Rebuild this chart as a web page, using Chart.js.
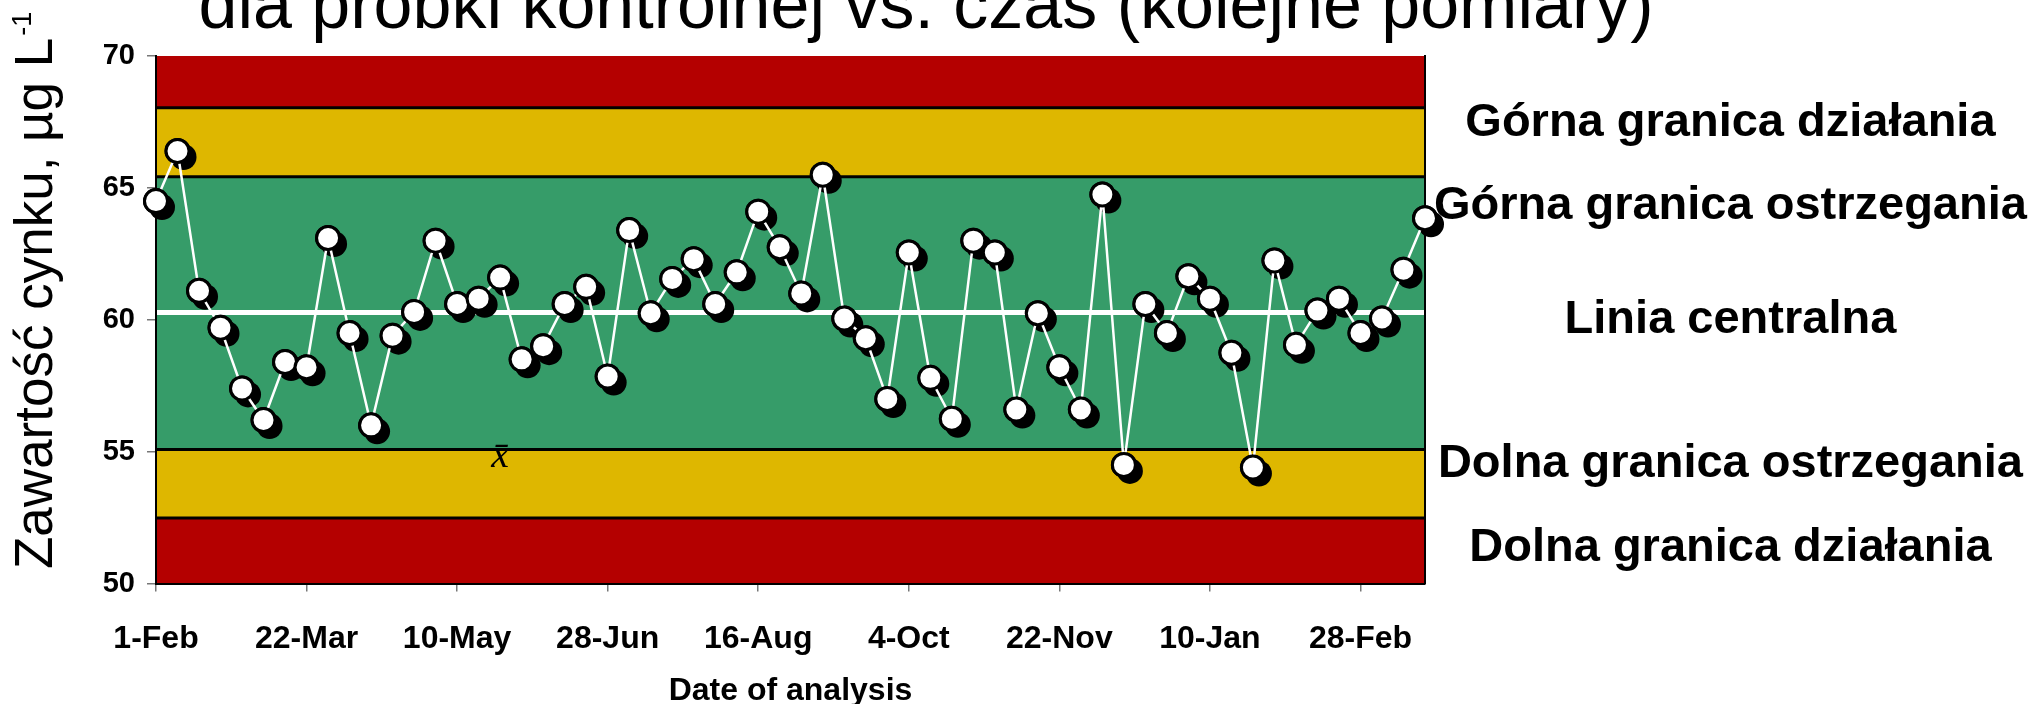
<!DOCTYPE html>
<html>
<head>
<meta charset="utf-8">
<script src="https://cdn.jsdelivr.net/npm/chart.js@4.4.1/dist/chart.umd.min.js"></script>
<style>
  html, body { margin: 0; padding: 0; background: #fff; }
  canvas { display: block; }
</style>
</head>
<body>
<canvas id="karta" width="2034" height="704"></canvas>
<script>
// daty pomiarów (co tydzień)
const daty = ['1-Feb','8-Feb','15-Feb','22-Feb','1-Mar','8-Mar','15-Mar','22-Mar','29-Mar',
  '5-Apr','12-Apr','19-Apr','26-Apr','3-May','10-May','17-May','24-May','31-May',
  '7-Jun','14-Jun','21-Jun','28-Jun','5-Jul','12-Jul','19-Jul','26-Jul',
  '2-Aug','9-Aug','16-Aug','23-Aug','30-Aug','6-Sep','13-Sep','20-Sep','27-Sep',
  '4-Oct','11-Oct','18-Oct','25-Oct','1-Nov','8-Nov','15-Nov','22-Nov','29-Nov',
  '6-Dec','13-Dec','20-Dec','27-Dec','3-Jan','10-Jan','17-Jan','24-Jan','31-Jan',
  '7-Feb','14-Feb','21-Feb','28-Feb','7-Mar','14-Mar','21-Mar'];

// zawartość cynku w próbce kontrolnej
const cynk = [64.5, 66.4, 61.1, 59.7, 57.4, 56.2, 58.4, 58.2, 63.1, 59.5,
  56.0, 59.4, 60.3, 63.0, 60.6, 60.8, 61.6, 58.5, 59.0, 60.6,
  61.25, 57.85, 63.4, 60.25, 61.55, 62.3, 60.6, 61.8, 64.1, 62.75,
  61.0, 65.5, 60.05, 59.3, 57.0, 62.55, 57.8, 56.25, 63.0, 62.55,
  56.6, 60.25, 58.2, 56.6, 64.75, 54.5, 60.6, 59.5, 61.65, 60.8,
  58.75, 54.4, 62.25, 59.05, 60.35, 60.8, 59.5, 60.05, 61.9, 63.85];

const etykietyOsiX = ['1-Feb','22-Mar','10-May','28-Jun','16-Aug','4-Oct','22-Nov','10-Jan','28-Feb'];

// granice: dolna działania, dolna ostrzegania, górna ostrzegania, górna działania
const granice = [52.49, 55.08, 65.42, 68.04];
const liniaCentralna = 60.28;

const opisyGranic = ['Górna granica działania', 'Górna granica ostrzegania', 'Linia centralna',
  'Dolna granica ostrzegania', 'Dolna granica działania'];

const tytul = 'dla próbki kontrolnej vs. czas (kolejne pomiary)';
const tytulOsiY = 'Zawartość cynku, µg L';

const FONT = '"Liberation Sans", Arial, sans-serif';
const CZERWONY = '#B40000', ZOLTY = '#DEB700', ZIELONY = '#369C69';

const strefy = {
  id: 'strefy',
  beforeDraw(chart) {
    const { ctx, chartArea: a, scales: { y } } = chart;
    ctx.save();
    ctx.fillStyle = '#fff';
    ctx.fillRect(0, 0, chart.width, chart.height);
    const pasy = [
      [y.min, granice[0], CZERWONY],
      [granice[0], granice[1], ZOLTY],
      [granice[1], granice[2], ZIELONY],
      [granice[2], granice[3], ZOLTY],
      [granice[3], y.max, CZERWONY]
    ];
    pasy.forEach(([od, doo, kolor]) => {
      const gora = y.getPixelForValue(doo);
      const dol = y.getPixelForValue(od);
      ctx.fillStyle = kolor;
      ctx.fillRect(a.left, gora, a.right - a.left, dol - gora);
    });
    ctx.strokeStyle = '#000';
    ctx.lineWidth = 3;
    granice.forEach(g => {
      const py = y.getPixelForValue(g);
      ctx.beginPath();
      ctx.moveTo(a.left, py);
      ctx.lineTo(a.right, py);
      ctx.stroke();
    });
    ctx.strokeStyle = '#fff';
    ctx.lineWidth = 5;
    const pc = y.getPixelForValue(liniaCentralna);
    ctx.beginPath();
    ctx.moveTo(a.left, pc);
    ctx.lineTo(a.right, pc);
    ctx.stroke();
    ctx.restore();
  }
};

// cień znaczników: zestaw nr 2 rysowany pod linią, z przesunięciem cienia
const cien = {
  id: 'cien',
  beforeDatasetDraw(chart, args) {
    if (args.index !== 2) return;
    const ctx = chart.ctx;
    ctx.save();
    ctx.shadowColor = '#000';
    ctx.shadowOffsetX = 6;
    ctx.shadowOffsetY = 6;
    ctx.shadowBlur = 0;
  },
  afterDatasetDraw(chart, args) {
    if (args.index === 2) chart.ctx.restore();
  }
};

const napisy = {
  id: 'napisy',
  afterDraw(chart) {
    const { ctx, scales: { x, y } } = chart;
    ctx.save();
    ctx.fillStyle = '#000';
    ctx.textBaseline = 'alphabetic';

    // tytuł (górna część poza obrazem)
    ctx.font = '70px ' + FONT;
    ctx.textAlign = 'center';
    ctx.fillText(tytul, 926, 28);

    // tytuł osi Y
    ctx.save();
    ctx.font = '53px ' + FONT;
    ctx.textAlign = 'left';
    ctx.translate(52, 569);
    ctx.rotate(-Math.PI / 2);
    ctx.fillText(tytulOsiY, 0, 0);
    const w = ctx.measureText(tytulOsiY).width;
    ctx.font = '27px ' + FONT;
    ctx.fillText('-1', w + 2, -21);
    ctx.restore();

    // x z kreską
    ctx.font = 'italic 40px "Liberation Serif", serif';
    ctx.textAlign = 'center';
    ctx.fillText('x\u0304', x.getPixelForValue(16), y.getPixelForValue(54.43));
    ctx.restore();
  }
};

new Chart(document.getElementById('karta'), {
  type: 'line',
  data: {
    labels: daty,
    datasets: [
      {
        data: cynk,
        showLine: false,
        pointRadius: 11.5,
        pointBorderWidth: 3,
        pointBackgroundColor: '#fff',
        pointBorderColor: '#000',
        clip: false,
        order: 0
      },
      {
        data: cynk,
        borderColor: '#fff',
        borderWidth: 2.5,
        pointRadius: 0,
        tension: 0,
        clip: false,
        order: 1
      },
      {
        data: cynk,
        showLine: false,
        pointRadius: 13,
        pointBorderWidth: 0,
        pointBackgroundColor: '#000',
        clip: false,
        order: 2
      }
    ]
  },
  options: {
    responsive: false,
    animation: false,
    devicePixelRatio: 1,
    layout: { padding: { top: 56, left: 0, right: 0, bottom: 0 } },
    plugins: { legend: { display: false }, tooltip: { enabled: false } },
    scales: {
      x: {
        type: 'category',
        offset: false,
        afterBuildTicks: s => { s.ticks = s.ticks.filter(t => etykietyOsiX.includes(daty[t.value])); },
        afterFit: s => { s.height = 120.4; },
        ticks: { autoSkip: false, maxRotation: 0, color: '#000', padding: 28,
          font: { family: FONT, size: 32, weight: 'bold' } },
        grid: { drawOnChartArea: false, tickLength: 8, color: '#777', lineWidth: 1.5 },
        border: { color: '#000', width: 2 },
        title: { display: true, text: 'Date of analysis', color: '#000',
          font: { family: FONT, size: 32, weight: 'bold' }, padding: { top: 0, bottom: -6 } }
      },
      y: {
        min: 50,
        max: 70,
        afterFit: s => { s.width = 156; },
        ticks: { stepSize: 5, color: '#000', padding: 12,
          font: { family: FONT, size: 29, weight: 'bold' } },
        grid: { drawOnChartArea: false, tickLength: 9, color: '#777', lineWidth: 1.5 },
        border: { color: '#000', width: 2 }
      },
      y2: {
        position: 'right',
        min: 50,
        max: 70,
        afterBuildTicks: s => { s.ticks = [67.45, 64.33, 60.0, 54.52, 51.34].map(v => ({ value: v })); },
        afterFit: s => { s.width = 609; },
        ticks: { autoSkip: false, crossAlign: 'center', padding: 1, color: '#000',
          font: { family: FONT, size: 47, weight: 'bold' },
          callback: (v, i) => opisyGranic[i] },
        grid: { display: false },
        border: { display: true, color: '#000', width: 2 }
      }
    }
  },
  plugins: [strefy, cien, napisy]
});
</script>
</body>
</html>
